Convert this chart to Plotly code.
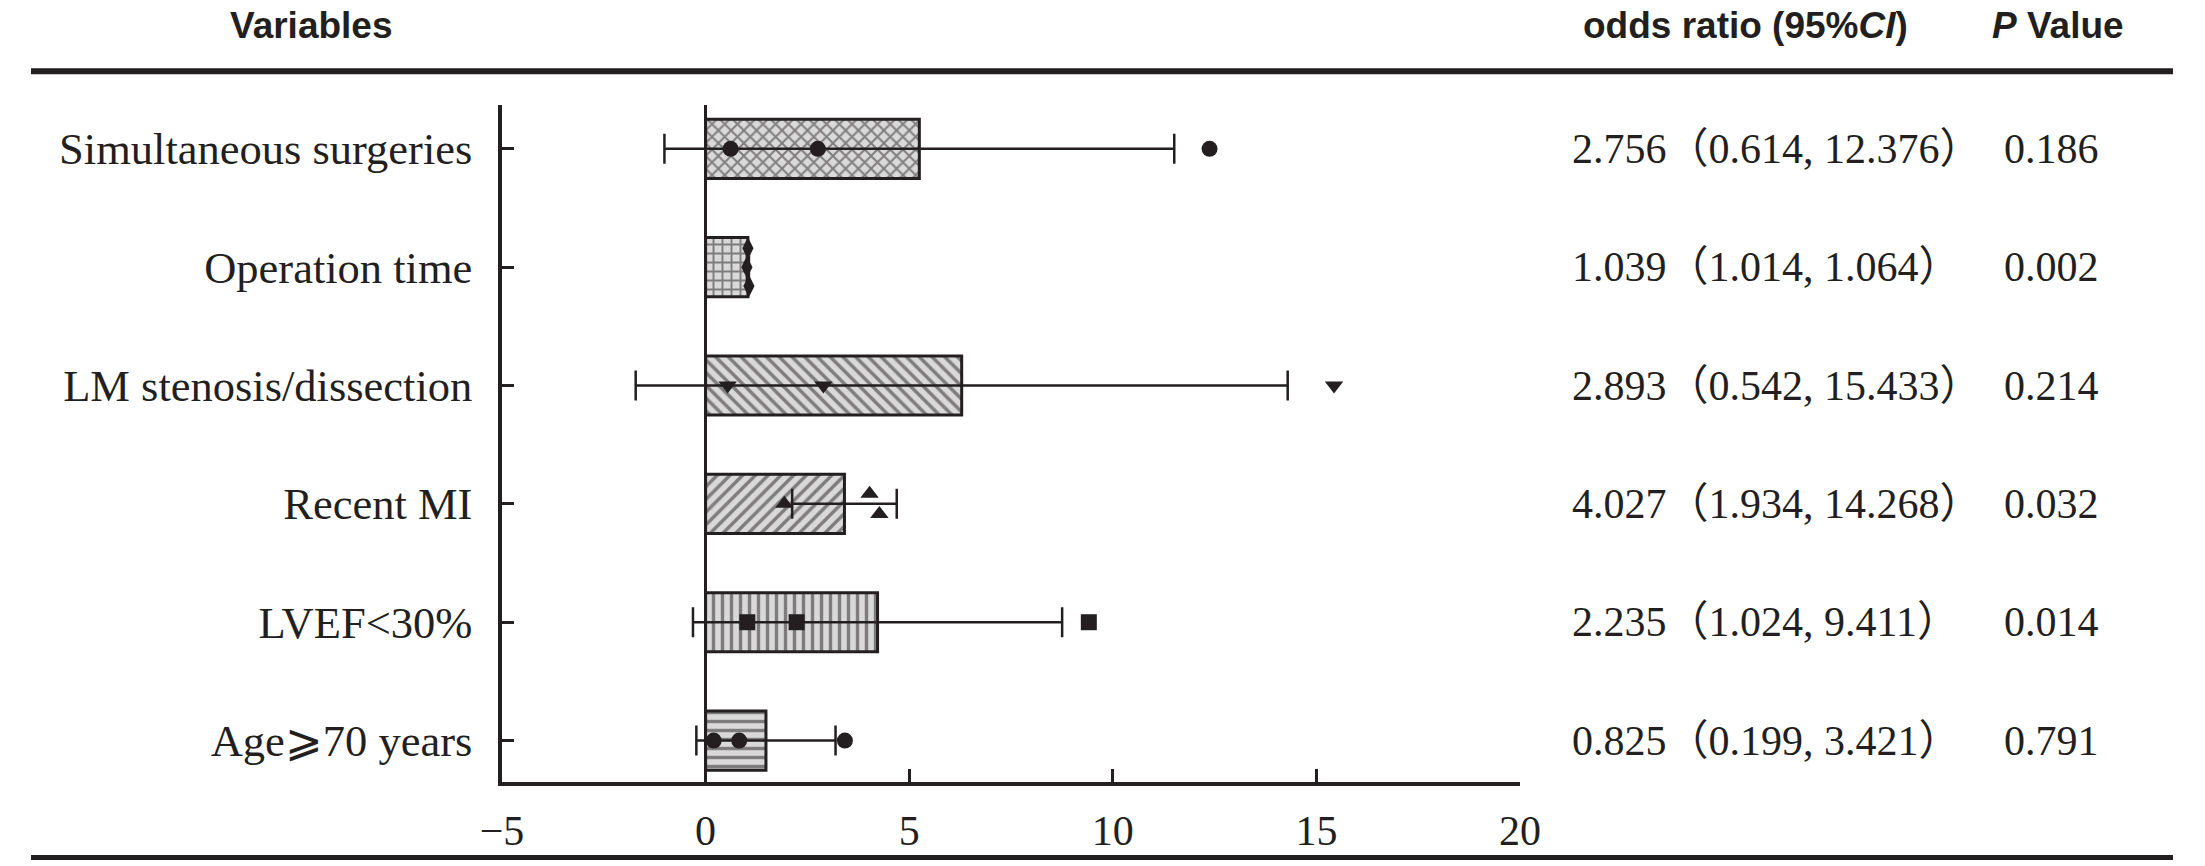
import plotly.graph_objects as go

# ---------------- data ----------------
variables = ["Simultaneous surgeries", "Operation time", "LM stenosis/dissection",
             "Recent MI", "LVEF<30%", "Age⩾70 years"]
odds_ratio = [2.756, 1.039, 2.893, 4.027, 2.235, 0.825]
ci_low = [0.614, 1.014, 0.542, 1.934, 1.024, 0.199]
ci_high = [12.376, 1.064, 15.433, 14.268, 9.411, 3.421]
ci_high_plotted = [12.376, 1.064, 15.433, 4.268, 9.411, 3.421]
p_values = ["0.186", "0.002", "0.214", "0.032", "0.014", "0.791"]
bar_value = [5.249, 1.039, 6.289, 3.410, 4.223, 1.482]
bar_error = [6.26, 0.025, 8.006, 1.284, 4.533, 1.709]
x_ticks = [-5, 0, 5, 10, 15, 20]

# ---------------- styles ----------------
INK = "#231f20"
FILL = "#d9d9d9"
SERIF = "Liberation Serif, Times New Roman, Noto Sans CJK SC, serif"
SANS = "Liberation Sans, Arial, sans-serif"
patterns = ["x", "+", "\\", "/", "|", "-"]
symbols = ["circle", "diamond-tall", "triangle-down", "triangle-up", "square", "circle"]
spread = [0, 0.16, 0, 0.085, 0, 0]

rows = list(range(len(variables)))

fig = go.Figure()
fig.add_trace(go.Bar(
    x=bar_value, y=rows, orientation="h", width=0.5,
    marker=dict(color=FILL, line=dict(color=INK, width=3),
                pattern=dict(shape=patterns, fgcolor=INK, bgcolor=FILL,
                             size=9, solidity=0.38, fillmode="overlay")),
    error_x=dict(type="data", array=bar_error, visible=True,
                 color=INK, thickness=2.5, width=15),
    showlegend=False, hoverinfo="skip",
))

for i in rows:
    s = spread[i]
    fig.add_trace(go.Scatter(
        x=[odds_ratio[i], ci_low[i], ci_high_plotted[i]],
        y=[i - s, i, i + s],
        mode="markers",
        marker=dict(symbol=symbols[i], size=16, color=INK, line=dict(width=0)),
        showlegend=False, hoverinfo="skip",
    ))

# plot area in pixels
W, H = 2205, 866
L, R, T, B = 502, 1520, 105, 786
pw, ph = R - L, B - T


def px_x(px):
    return (px - L) / pw


def px_y(py):
    return (B - py) / ph


annotations = []
for i in rows:
    txt = f"{odds_ratio[i]:.3f}（{ci_low[i]:.3f}, {ci_high[i]:.3f}）"
    annotations.append(dict(x=px_x(1570), y=i, xref="paper", yref="y", text=txt,
                            showarrow=False, xanchor="left", yanchor="middle",
                            font=dict(family=SERIF, size=42, color=INK)))
    annotations.append(dict(x=px_x(2051), y=i, xref="paper", yref="y", text=p_values[i],
                            showarrow=False, xanchor="center", yanchor="middle",
                            font=dict(family=SERIF, size=42, color=INK)))

headers = [("<b>Variables</b>", 311), ("<b>odds ratio (95%<i>CI</i>)</b>", 1745),
           ("<b><i>P</i> Value</b>", 2058)]
for text, cx in headers:
    annotations.append(dict(x=px_x(cx), y=px_y(25), xref="paper", yref="paper", text=text,
                            showarrow=False, xanchor="center", yanchor="middle",
                            font=dict(family=SANS, size=37, color=INK)))

shapes = [
    dict(type="line", xref="paper", yref="paper", x0=px_x(31), x1=px_x(2173),
         y0=px_y(71), y1=px_y(71), line=dict(color=INK, width=6)),
    dict(type="line", xref="paper", yref="paper", x0=px_x(31), x1=px_x(2173),
         y0=px_y(862), y1=px_y(862), line=dict(color=INK, width=5)),
]

fig.update_layout(
    width=W, height=H,
    margin=dict(l=L, r=W - R, t=T, b=H - B, pad=0),
    paper_bgcolor="white", plot_bgcolor="white",
    annotations=annotations, shapes=shapes,
    xaxis=dict(range=[-5, 20], tickvals=x_ticks,
               ticktext=[str(v).replace("-", "−") for v in x_ticks],
               showgrid=False, zeroline=True, zerolinecolor=INK, zerolinewidth=2.5,
               showline=True, linecolor=INK, linewidth=3.5,
               ticks="inside", ticklen=13, tickwidth=2.5, tickcolor=INK,
               ticklabelstandoff=9,
               tickfont=dict(family=SERIF, size=42, color=INK)),
    yaxis=dict(range=[5.35, -0.37], tickvals=rows, ticktext=variables,
               showgrid=False, zeroline=False,
               showline=True, linecolor=INK, linewidth=3.5,
               ticks="inside", ticklen=12, tickwidth=3, tickcolor=INK,
               ticklabelstandoff=17,
               tickfont=dict(family=SERIF, size=44.5, color=INK)),
)

fig.write_html("out.html", config={"displayModeBar": False},
               post_script="document.body.style.margin='0';document.body.style.overflow='hidden';")
